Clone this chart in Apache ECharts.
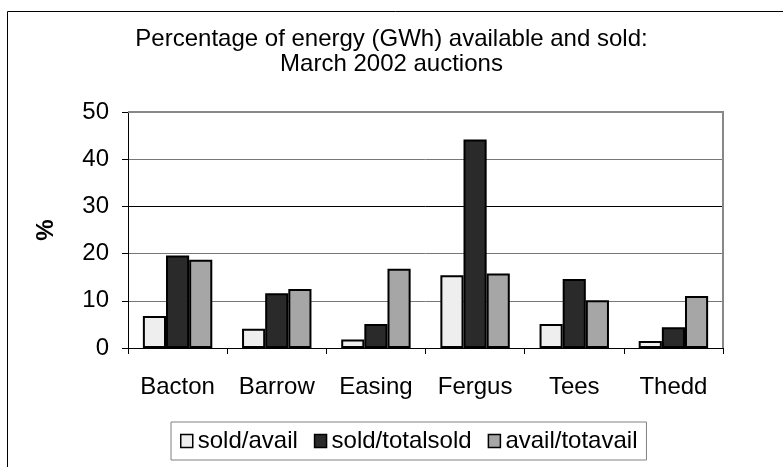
<!DOCTYPE html>
<html>
<head>
<meta charset="utf-8">
<script src="https://cdn.jsdelivr.net/npm/echarts@6/dist/echarts.min.js"></script>
<style>
  html, body { margin: 0; padding: 0; background: #fff; }
  #chart { width: 783px; height: 467px; }
</style>
</head>
<body>
<div id="chart"></div>
<script>
const categories = ['Bacton', 'Barrow', 'Easing', 'Fergus', 'Tees', 'Thedd'];
const soldAvail = [6.8, 4.1, 1.8, 15.4, 5.1, 1.5];
const soldTotalSold = [19.6, 11.6, 5.1, 44.2, 14.6, 4.4];
const availTotAvail = [18.7, 12.5, 16.8, 15.8, 10.1, 11.0];
const seriesNames = ['sold/avail', 'sold/totalsold', 'avail/totavail'];
const seriesColors = ['#eeeeee', '#2a2a2a', '#a6a6a6'];

const font = "'Liberation Sans', Arial, sans-serif";

const chart = echarts.init(document.getElementById('chart'));

const makeBar = (name, data, color) => ({
    name: name,
    type: 'bar',
    data: data,
    barGap: '0%',
    barCategoryGap: '30%',
    itemStyle: { color: color, borderColor: '#000', borderWidth: 2 },
    animation: false
});

chart.setOption({
    textStyle: { fontFamily: font },
    title: {
        text: 'Percentage of energy (GWh) available and sold:\nMarch 2002 auctions',
        left: 'center',
        top: 22,
        textStyle: { fontSize: 24, fontWeight: 'normal', color: '#000', lineHeight: 25, fontFamily: font }
    },
    graphic: [{
        type: 'rect',
        shape: { x: 7.5, y: 11.5, width: 800, height: 500 },
        style: { fill: 'none', stroke: '#000', lineWidth: 1 },
        silent: true
    }, {
        // plot area top and right border
        type: 'polyline',
        shape: { points: [[128, 112], [723, 112], [723, 348]] },
        style: { fill: 'none', stroke: '#888', lineWidth: 2 },
        silent: true,
        z: 1
    }],
    legend: {
        data: seriesNames,
        left: 171,
        top: 422,
        itemWidth: 12,
        itemHeight: 13,
        itemGap: 16,
        padding: [7, 9],
        borderColor: '#808080',
        borderWidth: 1,
        icon: 'rect',
        itemStyle: { borderColor: '#000', borderWidth: 1.5 },
        textStyle: { fontSize: 24, color: '#000', fontFamily: font }
    },
    grid: {
        left: 128,
        right: 60,
        top: 112,
        bottom: 119,
        containLabel: false
    },
    xAxis: {
        type: 'category',
        data: categories,
        axisLine: { lineStyle: { color: '#000', width: 1 } },
        axisTick: { show: true, length: 6, lineStyle: { color: '#000' } },
        axisLabel: { fontSize: 24, color: '#000', margin: 27, fontFamily: font }
    },
    yAxis: {
        type: 'value',
        min: 0,
        max: 50,
        interval: 10,
        name: '%',
        nameLocation: 'middle',
        nameRotate: 90,
        nameGap: 70,
        nameTextStyle: { fontSize: 24, fontWeight: 'bold', color: '#000', fontFamily: font },
        axisLine: { show: true, lineStyle: { color: '#000', width: 1 } },
        axisTick: { show: true, length: 6, lineStyle: { color: '#000' } },
        axisLabel: { fontSize: 24, color: '#000', margin: 19, fontFamily: font },
        splitLine: { show: true, lineStyle: { color: ['#777', '#777', '#777', '#000', '#777', '#888'], width: 1 } }
    },
    series: [
        makeBar(seriesNames[0], soldAvail, seriesColors[0]),
        makeBar(seriesNames[1], soldTotalSold, seriesColors[1]),
        makeBar(seriesNames[2], availTotAvail, seriesColors[2])
    ]
});
</script>
</body>
</html>
